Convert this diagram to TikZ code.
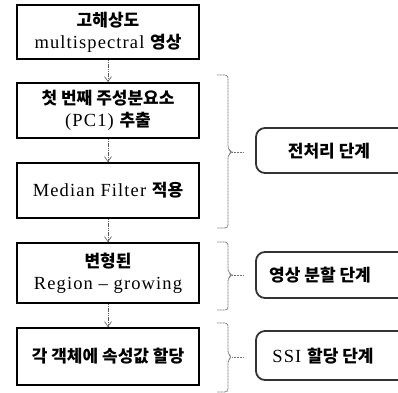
\documentclass[tikz,border=0pt]{standalone}
\usepackage{fontspec}
\setmainfont{Liberation Serif}[LetterSpace=6]
\newfontfamily\kr{Noto Sans CJK KR}
\newcommand{\K}[1]{{\kr\bfseries\fontsize{17}{22}\selectfont #1}}
\usetikzlibrary{arrows.meta}
\tikzset{
  stepbox/.style={draw=black, line width=1.8pt, minimum width=182pt, inner sep=0pt, align=center,
    font=\fontsize{18.5}{22}\selectfont},
  flow/.style={draw=black!65, line width=0.6pt, dash pattern=on 1.2pt off 0.6pt,
    -{Straight Barb[length=5pt,width=7pt]}},
  brace/.style={draw=black!55, line width=0.8pt, dash pattern=on 1pt off 0.5pt, rounded corners=3pt},
  stagebox/.style={draw=black!80, line width=1.8pt, rounded corners=9pt},
  stagetext/.style={font=\fontsize{18.5}{20}\selectfont, inner sep=0pt}
}
\begin{document}
\begin{tikzpicture}[x=1pt,y=-1pt]
\useasboundingbox (0,0) rectangle (398,392);
\clip (0,0) rectangle (398,392);
% left process boxes
\node[stepbox, minimum height=54pt] (b1) at (108,32) {\K{고해상도}\\multispectral \K{영상}};
\node[stepbox, minimum height=55pt] (b2) at (108,110.5) {\K{첫 번째 주성분요소}\\(PC1) \K{추출}};
\node[stepbox, minimum height=55pt] (b3) at (108,190.5) {Median Filter \K{적용}};
\node[stepbox, minimum height=60pt] (b4) at (108,273) {\K{변형된}\\Region – growing};
\node[stepbox, minimum height=57pt] (b5) at (108,356.5) {\K{각 객체에 속성값 할당}};
\draw[flow] (b1) -- (b2);
\draw[flow] (b2) -- (b3);
\draw[flow] (b3) -- (b4);
\draw[flow] (b4) -- (b5);
% braces
\draw[brace] (217,75) -- (228,75) -- (228,149) -- (232,152) -- (228,155) -- (228,228) -- (217,228);
\coordinate (t1) at (243,152);
\draw[brace] (232,152) -- (t1);
\draw[brace] (217,242) -- (228,242) -- (228,272) -- (232,275) -- (228,278) -- (228,310) -- (217,310);
\coordinate (t2) at (243,275);
\draw[brace] (232,275) -- (t2);
\draw[brace] (217,323) -- (228,323) -- (228,354) -- (232,357) -- (228,360) -- (228,392) -- (217,392);
\coordinate (t3) at (243,357);
\draw[brace] (232,357) -- (t3);
% stage boxes (cut off at the right edge)
\draw[stagebox] (256,128) rectangle (420,173);
\draw[stagebox] (256,252) rectangle (420,298);
\draw[stagebox] (256,331) rectangle (420,380);
\node[stagetext] (s1) at (329,151) {\K{전처리 단계}};
\node[stagetext] (s2) at (320,275) {\K{영상 분할 단계}};
\node[stagetext] (s3) at (323,356) {SSI \K{할당 단계}};
\end{tikzpicture}
\end{document}
